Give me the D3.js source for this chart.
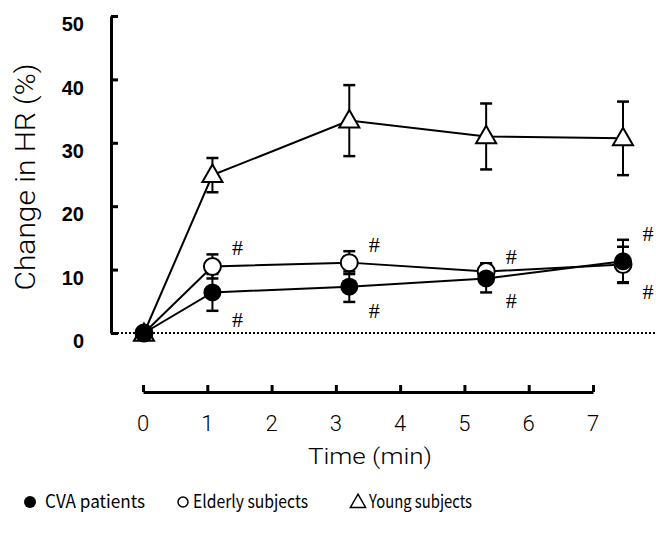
<!DOCTYPE html>
<html>
<head>
<meta charset="utf-8">
<script src="https://cdn.jsdelivr.net/npm/d3@7"></script>
<style>
  body { margin: 0; background: #fff; }
  svg { display: block; }
</style>
</head>
<body>
<div id="chart"></div>
<script>
// data
var times = [0, 1, 3, 5, 7];
var cvaMean = [0, 6.4, 7.3, 8.6, 11.3];
var cvaErr = [0, 2.9, 2.4, 2.2, 3.4];
var elderlyMean = [0, 10.5, 11.1, 9.7, 10.8];
var elderlyErr = [0, 1.9, 1.8, 1.3, 2.8];
var youngMean = [0, 24.9, 33.5, 31.0, 30.7];
var youngErr = [0, 2.7, 5.6, 5.2, 5.8];
var yTicks = [0, 10, 20, 30, 40, 50];
var xTicks = [0, 1, 2, 3, 4, 5, 6, 7];
var legendLabels = ["CVA patients", "Elderly subjects", "Young subjects"];

var svgWidth = 656;
var svgHeight = 533;

var svg = d3.select("#chart")
  .append("svg")
  .attr("width", svgWidth)
  .attr("height", svgHeight);

var thinFont = "Roboto, 'DejaVu Sans', sans-serif";

// y scale shared by axis and points
var yScale = d3.scaleLinear().domain([0, 50]).range([333, 16]);
// the time axis is drawn below the plot with its own spacing
var xAxisScale = d3.scaleLinear().domain([0, 7]).range([143, 593]);
// points are placed with a slightly wider spacing (as in the original figure)
var xData = d3.scaleLinear().domain([0, 7]).range([144, 623]);

// y axis
var leftAxis = d3.axisRight(yScale).tickValues(yTicks).tickSize(7).tickSizeOuter(0).tickFormat("");
var yAxisG = svg.append("g")
  .attr("transform", "translate(111,0)")
  .call(leftAxis);
yAxisG.select(".domain").attr("stroke-width", 3).attr("stroke", "#000");
yAxisG.selectAll(".tick line").attr("stroke-width", 3).attr("stroke", "#000");

// tick labels sit a little below their ticks in the original
svg.selectAll(".ylab")
  .data(yTicks)
  .enter()
  .append("text")
  .attr("class", "ylab")
  .attr("x", 84)
  .attr("y", d => yScale(d) + 8)
  .attr("dy", "0.36em")
  .attr("text-anchor", "end")
  .attr("font-family", "Liberation Sans, Arial, sans-serif")
  .attr("font-weight", "bold")
  .attr("font-size", 20)
  .text(d => d);

svg.append("text")
  .attr("transform", "translate(35,177) rotate(-90)")
  .attr("text-anchor", "middle")
  .attr("font-family", thinFont)
  .attr("font-weight", 300)
  .attr("font-size", 27)
  .attr("textLength", 227)
  .attr("lengthAdjust", "spacingAndGlyphs")
  .text("Change in HR (%)");

// dotted zero line
svg.append("line")
  .attr("x1", 113).attr("x2", 656)
  .attr("y1", yScale(0)).attr("y2", yScale(0))
  .attr("stroke", "#000")
  .attr("stroke-width", 2)
  .attr("stroke-dasharray", "2,2");

// x axis
var bottomAxis = d3.axisTop(xAxisScale).tickValues(xTicks).tickSize(7).tickSizeOuter(0).tickFormat("");
var xAxisG = svg.append("g")
  .attr("transform", "translate(0,392)")
  .call(bottomAxis);
xAxisG.select(".domain").attr("stroke-width", 3).attr("stroke", "#000");
xAxisG.selectAll(".tick line").attr("stroke-width", 3).attr("stroke", "#000");

svg.selectAll(".xlab")
  .data(xTicks)
  .enter()
  .append("text")
  .attr("class", "xlab")
  .attr("x", d => xAxisScale(d))
  .attr("y", 431)
  .attr("text-anchor", "middle")
  .attr("font-family", thinFont)
  .attr("font-weight", 300)
  .attr("font-size", 22)
  .text(d => d);

svg.append("text")
  .attr("x", 370)
  .attr("y", 464)
  .attr("text-anchor", "middle")
  .attr("font-family", thinFont)
  .attr("font-weight", 300)
  .attr("font-size", 22)
  .attr("textLength", 124)
  .attr("lengthAdjust", "spacingAndGlyphs")
  .text("Time (min)");

// series
var series = [
  {name: "young", mean: youngMean, err: youngErr},
  {name: "elderly", mean: elderlyMean, err: elderlyErr},
  {name: "cva", mean: cvaMean, err: cvaErr}
];

var line = d3.line()
  .x(d => xData(d.t))
  .y(d => yScale(d.m));

series.forEach(function(s) {
  var pts = times.map((t, i) => ({t: t, m: s.mean[i], e: s.err[i]}));
  s.pts = pts;
  svg.append("path")
    .datum(pts)
    .attr("d", line)
    .attr("fill", "none")
    .attr("stroke", "#000")
    .attr("stroke-width", 2);

  // error bars
  var eb = svg.append("g");
  eb.selectAll("line.v")
    .data(pts.filter(d => d.e > 0))
    .enter()
    .append("line")
    .attr("x1", d => xData(d.t)).attr("x2", d => xData(d.t))
    .attr("y1", d => yScale(d.m - d.e)).attr("y2", d => yScale(d.m + d.e))
    .attr("stroke", "#000").attr("stroke-width", 2);
  [-1, 1].forEach(function(sign) {
    eb.selectAll("line.c" + sign)
      .data(pts.filter(d => d.e > 0))
      .enter()
      .append("line")
      .attr("x1", d => xData(d.t) - 6).attr("x2", d => xData(d.t) + 6)
      .attr("y1", d => yScale(d.m + sign * d.e)).attr("y2", d => yScale(d.m + sign * d.e))
      .attr("stroke", "#000").attr("stroke-width", 2.5);
  });
});

var tri = d3.symbol().type(d3.symbolTriangle).size(175);

// markers
svg.append("g").selectAll("path")
  .data(series[0].pts)
  .enter()
  .append("path")
  .attr("d", tri)
  .attr("transform", d => `translate(${xData(d.t)},${yScale(d.m) + (d.t === 0 ? 2 : 1)})`)
  .attr("fill", "#fff")
  .attr("stroke", "#000")
  .attr("stroke-width", 2);

svg.append("g").selectAll("circle")
  .data(series[1].pts)
  .enter()
  .append("circle")
  .attr("cx", d => xData(d.t))
  .attr("cy", d => yScale(d.m))
  .attr("r", 8.5)
  .attr("fill", "#fff")
  .attr("stroke", "#000")
  .attr("stroke-width", 2);

svg.append("g").selectAll("circle")
  .data(series[2].pts)
  .enter()
  .append("circle")
  .attr("cx", d => xData(d.t))
  .attr("cy", d => yScale(d.m))
  .attr("r", 9)
  .attr("fill", "#000");

// significance marks (#): one above and one below each pair of error bars
var hashFont = "Liberation Serif, serif";
var hashPts = times.map((t, i) => ({
  t: t,
  top: Math.max(elderlyMean[i] + elderlyErr[i], cvaMean[i] + cvaErr[i]),
  bottom: Math.min(elderlyMean[i] - elderlyErr[i], cvaMean[i] - cvaErr[i])
})).filter(d => d.t > 0);

svg.selectAll(".hashUp")
  .data(hashPts)
  .enter()
  .append("text")
  .attr("x", d => xData(d.t) + 25)
  .attr("y", d => yScale(d.top) - 7)
  .attr("dy", "0.35em")
  .attr("text-anchor", "middle")
  .attr("font-family", hashFont)
  .attr("font-size", 22)
  .text("#");
svg.selectAll(".hashDown")
  .data(hashPts)
  .enter()
  .append("text")
  .attr("x", d => xData(d.t) + 25)
  .attr("y", d => yScale(d.bottom) + 8)
  .attr("dy", "0.35em")
  .attr("text-anchor", "middle")
  .attr("font-family", hashFont)
  .attr("font-size", 22)
  .text("#");

// legend
var legY = 502;
var legFont = "'Noto Sans CJK JP', sans-serif";
svg.append("circle").attr("cx", 30).attr("cy", legY).attr("r", 6).attr("fill", "#000");
svg.append("circle").attr("cx", 183).attr("cy", legY).attr("r", 5)
  .attr("fill", "#fff").attr("stroke", "#000").attr("stroke-width", 1.5);
svg.append("path")
  .attr("d", d3.symbol().type(d3.symbolTriangle).size(100))
  .attr("transform", `translate(358,${legY + 1})`)
  .attr("fill", "#fff").attr("stroke", "#000").attr("stroke-width", 1.5);

var legX = [45, 193, 369];
var legW = [100, 115, 103];
svg.selectAll(".leg")
  .data(legendLabels)
  .enter()
  .append("text")
  .attr("x", (d, i) => legX[i])
  .attr("y", 508)
  .attr("font-family", legFont)
  .attr("font-size", 18)
  .attr("textLength", (d, i) => legW[i])
  .attr("lengthAdjust", "spacingAndGlyphs")
  .text(d => d);
</script>
</body>
</html>
